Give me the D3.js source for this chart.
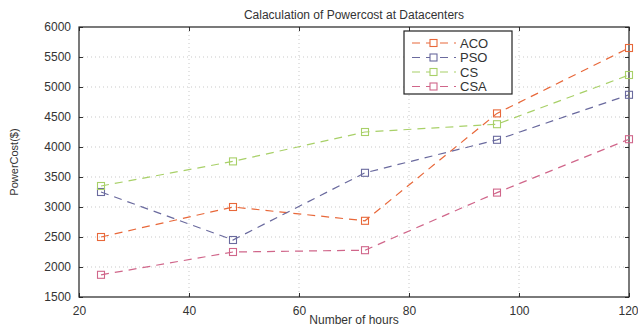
<!DOCTYPE html>
<html>
<head>
<meta charset="utf-8">
<script src="https://cdn.jsdelivr.net/npm/d3@7"></script>
<style>
  body { margin: 0; background: #fff; }
  svg { display: block; font-family: 'Liberation Sans', Arial, sans-serif; }
</style>
</head>
<body>
<div id="chart"></div>
<script>
const hours = [24, 48, 72, 96, 120];
const aco = [2500, 3000, 2770, 4560, 5650];
const pso = [3250, 2450, 3570, 4120, 4870];
const cs = [3350, 3760, 4250, 4380, 5200];
const csa = [1870, 2250, 2280, 3240, 4130];
const seriesNames = ['ACO', 'PSO', 'CS', 'CSA'];
const xTicks = [20, 40, 60, 80, 100, 120];
const yTicks = [1500, 2000, 2500, 3000, 3500, 4000, 4500, 5000, 5500, 6000];

const width = 638, height = 326;
const m = { left: 79, top: 27, right: 9, bottom: 29 };
const iw = width - m.left - m.right;
const ih = height - m.top - m.bottom;

const colors = ['#e8683a', '#6a6a9e', '#a8d068', '#d0668a'];
const values = [aco, pso, cs, csa];

const svg = d3.select('#chart').append('svg')
    .attr('width', width).attr('height', height);
const g = svg.append('g').attr('transform', `translate(${m.left},${m.top})`);

const x = d3.scaleLinear().domain([20, 120]).range([0, iw]);
const y = d3.scaleLinear().domain([1500, 6000]).range([ih, 0]);

// dotted grid
g.append('g').selectAll('line.gx').data(xTicks.slice(1, -1)).enter().append('line')
    .attr('x1', (d) => x(d)).attr('x2', (d) => x(d)).attr('y1', 0).attr('y2', ih)
    .attr('stroke', '#bbb').attr('stroke-width', 0.8).attr('stroke-dasharray', '1,3');
g.append('g').selectAll('line.gy').data(yTicks.slice(1, -1)).enter().append('line')
    .attr('x1', 0).attr('x2', iw).attr('y1', (d) => y(d)).attr('y2', (d) => y(d))
    .attr('stroke', '#bbb').attr('stroke-width', 0.8).attr('stroke-dasharray', '1,3');

// axes, ticks inward
const styleAx = (sel) => {
    sel.select('.domain').remove();
    sel.selectAll('line').attr('stroke', '#333');
    sel.selectAll('text').attr('fill', '#333').style('font-size', '12px');
};
g.append('g').attr('transform', `translate(0,${ih})`)
    .call(d3.axisBottom(x).tickValues(xTicks).tickSize(-4).tickPadding(9).tickFormat(d3.format('d'))).call(styleAx)
    // last label would run off the page edge
    .call((sel) => sel.selectAll('.tick').filter((d) => d === 120).select('text')
        .attr('text-anchor', 'end').attr('dx', '9'));
g.append('g').call(d3.axisTop(x).tickValues(xTicks).tickSize(-4).tickFormat('')).call(styleAx);
g.append('g')
    .call(d3.axisLeft(y).tickValues(yTicks).tickSize(-4).tickPadding(8).tickFormat(d3.format('d'))).call(styleAx);
g.append('g').attr('transform', `translate(${iw},0)`)
    .call(d3.axisRight(y).tickValues(yTicks).tickSize(-4).tickFormat('')).call(styleAx);
g.append('rect').attr('width', iw).attr('height', ih)
    .attr('fill', 'none').attr('stroke', '#222').attr('stroke-width', 1.2);

// series
const line = d3.line().x((d, i) => x(hours[i])).y((d) => y(d));
values.forEach((vals, k) => {
    g.append('path').attr('d', line(vals))
        .attr('fill', 'none').attr('stroke', colors[k])
        .attr('stroke-width', 1.2).attr('stroke-dasharray', '8,6');
    g.selectAll(null).data(vals).enter().append('rect')
        .attr('x', (d, i) => x(hours[i]) - 3.5).attr('y', (d) => y(d) - 3.5)
        .attr('width', 7).attr('height', 7)
        .attr('fill', 'none').attr('stroke', colors[k]).attr('stroke-width', 1.1);
});

// title and labels
svg.append('text').attr('x', m.left + iw / 2).attr('y', 19)
    .attr('text-anchor', 'middle').attr('fill', '#333').style('font-size', '12px')
    .text('Calaculation of Powercost at Datacenters');
svg.append('text').attr('x', m.left + iw / 2).attr('y', height - 2)
    .attr('text-anchor', 'middle').attr('fill', '#333').style('font-size', '12px')
    .text('Number of hours');
svg.append('text').attr('transform', `translate(18,${m.top + ih / 2}) rotate(-90)`)
    .attr('text-anchor', 'middle').attr('fill', '#333').style('font-size', '11px')
    .text('PowerCost($)');

// legend
const lg = svg.append('g').attr('transform', 'translate(404,31)');
lg.append('rect').attr('width', 108).attr('height', 63)
    .attr('fill', '#fff').attr('stroke', '#222').attr('stroke-width', 1.2);
seriesNames.forEach((name, k) => {
    const yy = 12 + k * 14.5;
    lg.append('line').attr('x1', 8).attr('x2', 52).attr('y1', yy).attr('y2', yy)
        .attr('stroke', colors[k]).attr('stroke-width', 1.2).attr('stroke-dasharray', '8,6');
    lg.append('rect').attr('x', 26).attr('y', yy - 3.5).attr('width', 7).attr('height', 7)
        .attr('fill', '#fff').attr('stroke', colors[k]).attr('stroke-width', 1.1);
    lg.append('text').attr('x', 56).attr('y', yy + 4.5)
        .attr('fill', '#333').style('font-size', '13px').text(name);
});
</script>
</body>
</html>
